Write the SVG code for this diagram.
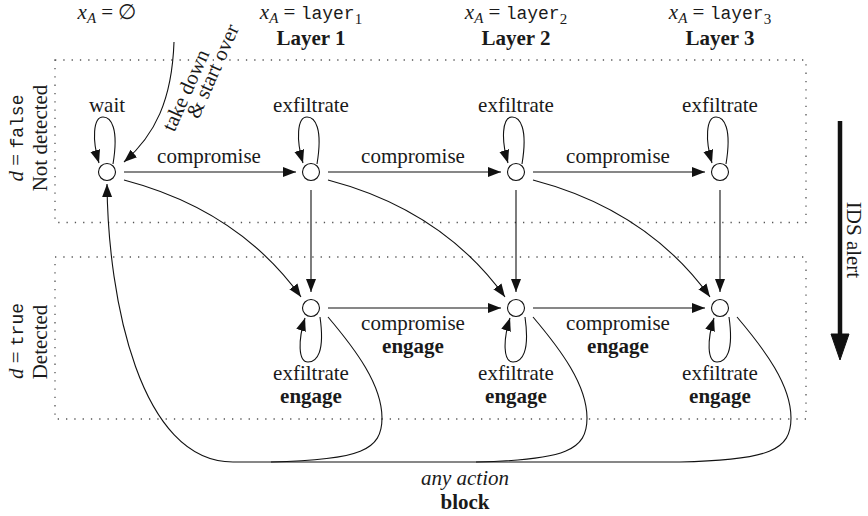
<svg xmlns="http://www.w3.org/2000/svg" width="868" height="516" viewBox="0 0 868 516">
<defs>
<marker id="ah" markerUnits="userSpaceOnUse" markerWidth="14" markerHeight="12" viewBox="0 -6 14 12" refX="13" refY="0" orient="auto">
<path d="M0,-5 L13,0 L0,5 z" fill="#111"/>
</marker>
</defs>
<style>
.t{font-size:21px;fill:#1a1a1a}
.b{font-weight:bold}
.i{font-style:italic}
.m{font-family:'Liberation Mono','DejaVu Sans Mono',monospace;font-size:18px}
.sub{font-size:15px}
.box{fill:none;stroke:#555;stroke-width:1.3;stroke-dasharray:1.3 7}
.e{fill:none;stroke:#111;stroke-width:1.1}
.a{marker-end:url(#ah)}
.n{fill:#fff;stroke:#111;stroke-width:1.1}
</style>
<g id="frames">
<rect class="box" x="55" y="60" width="751" height="162.5"/>
<rect class="box" x="55" y="257" width="751" height="162"/>
</g>
<g id="labels" class="t" font-family="Liberation Serif, DejaVu Serif, serif" text-anchor="middle">
<text x="107" y="19"><tspan class="i">x</tspan><tspan class="i sub" dy="4">A</tspan><tspan dy="-4"> = </tspan><tspan font-family="DejaVu Serif, serif">∅</tspan></text>
<text x="311" y="19"><tspan class="i">x</tspan><tspan class="i sub" dy="4">A</tspan><tspan dy="-4"> = </tspan><tspan class="m">layer</tspan><tspan class="sub" dy="5">1</tspan></text>
<text x="516" y="19"><tspan class="i">x</tspan><tspan class="i sub" dy="4">A</tspan><tspan dy="-4"> = </tspan><tspan class="m">layer</tspan><tspan class="sub" dy="5">2</tspan></text>
<text x="720" y="19"><tspan class="i">x</tspan><tspan class="i sub" dy="4">A</tspan><tspan dy="-4"> = </tspan><tspan class="m">layer</tspan><tspan class="sub" dy="5">3</tspan></text>
<text class="b" x="311" y="45">Layer 1</text>
<text class="b" x="516" y="45">Layer 2</text>
<text class="b" x="720" y="45">Layer 3</text>
<text transform="translate(23,138) rotate(-90)"><tspan class="i">d</tspan> = <tspan class="m">false</tspan></text>
<text transform="translate(47,138) rotate(-90)">Not detected</text>
<text transform="translate(23,341) rotate(-90)"><tspan class="i">d</tspan> = <tspan class="m">true</tspan></text>
<text transform="translate(47,342) rotate(-90)">Detected</text>
<text transform="translate(847,240) rotate(90)">IDS alert</text>
<text transform="translate(192,93) rotate(-66)">take down</text>
<text transform="translate(219,74) rotate(-66)">&amp; start over</text>
<text x="107" y="112">wait</text>
<text x="311" y="112">exfiltrate</text>
<text x="516" y="112">exfiltrate</text>
<text x="720" y="112">exfiltrate</text>
<text x="209" y="163">compromise</text>
<text x="413" y="163">compromise</text>
<text x="618" y="163">compromise</text>
<text x="413" y="330">compromise</text>
<text class="b" x="413" y="353">engage</text>
<text x="618" y="330">compromise</text>
<text class="b" x="618" y="353">engage</text>
<text x="311" y="380">exfiltrate</text>
<text class="b" x="311" y="403">engage</text>
<text x="516" y="380">exfiltrate</text>
<text class="b" x="516" y="403">engage</text>
<text x="720" y="380">exfiltrate</text>
<text class="b" x="720" y="403">engage</text>
<text class="i" x="465" y="485">any action</text>
<text class="b" x="465" y="509">block</text>
</g>
<g id="connectors">
<path class="e a" d="M113,164 C119,128 111,117 103,117 C93,117 92,140 99,163"/>
<path class="e a" d="M317,164 C323,128 315,117 307,117 C297,117 296,140 303,163"/>
<path class="e a" d="M522,164 C528,128 520,117 512,117 C502,117 501,140 508,163"/>
<path class="e a" d="M726,164 C732,128 724,117 716,117 C706,117 705,140 712,163"/>
<path class="e a" d="M320,317 C325,352 317,362 308,362 C298,362 298,340 305,318"/>
<path class="e a" d="M525,317 C530,352 522,362 513,362 C503,362 503,340 510,318"/>
<path class="e a" d="M729,317 C734,352 726,362 717,362 C707,362 707,340 714,318"/>
<path class="e a" d="M124,172 L296,172"/>
<path class="e a" d="M328,172 L501,172"/>
<path class="e a" d="M533,172 L705,172"/>
<path class="e a" d="M328,308 L501,308"/>
<path class="e a" d="M533,308 L705,308"/>
<path class="e a" d="M311,190 L311,292"/>
<path class="e a" d="M516,190 L516,292"/>
<path class="e a" d="M720,190 L720,292"/>
<path class="e a" d="M124,180 C200,200 260,240 301,297"/>
<path class="e a" d="M328,180 C404,200 464,240 505,297"/>
<path class="e a" d="M533,180 C609,200 669,240 710,297"/>
<path class="e" d="M328,317 C356,350 382,385 382,418 C382,450 361,460 271,462"/>
<path class="e" d="M533,317 C561,350 587,385 587,418 C587,450 566,460 476,462"/>
<path class="e a" d="M737,317 C765,350 791,385 791,418 C791,450 770,460 680,462 L233,462 C140,462 108,300 107,184"/>
<path class="e a" d="M174,42 C172,100 155,135 124,162"/>
<g id="ids-alert">
<line x1="840" y1="121" x2="840" y2="337" stroke="#111" stroke-width="4.5"/>
<path d="M831,334 L849,334 L840,360 z" fill="#111" stroke="#111" stroke-width="1" stroke-linejoin="round"/>
</g>
</g>
<g id="s0"><circle class="n" cx="107" cy="172" r="8.5"/></g>
<g id="u1"><circle class="n" cx="311" cy="172" r="8.5"/></g>
<g id="u2"><circle class="n" cx="516" cy="172" r="8.5"/></g>
<g id="u3"><circle class="n" cx="720" cy="172" r="8.5"/></g>
<g id="d1"><circle class="n" cx="311" cy="308" r="8.5"/></g>
<g id="d2"><circle class="n" cx="516" cy="308" r="8.5"/></g>
<g id="d3"><circle class="n" cx="720" cy="308" r="8.5"/></g>
</svg>
